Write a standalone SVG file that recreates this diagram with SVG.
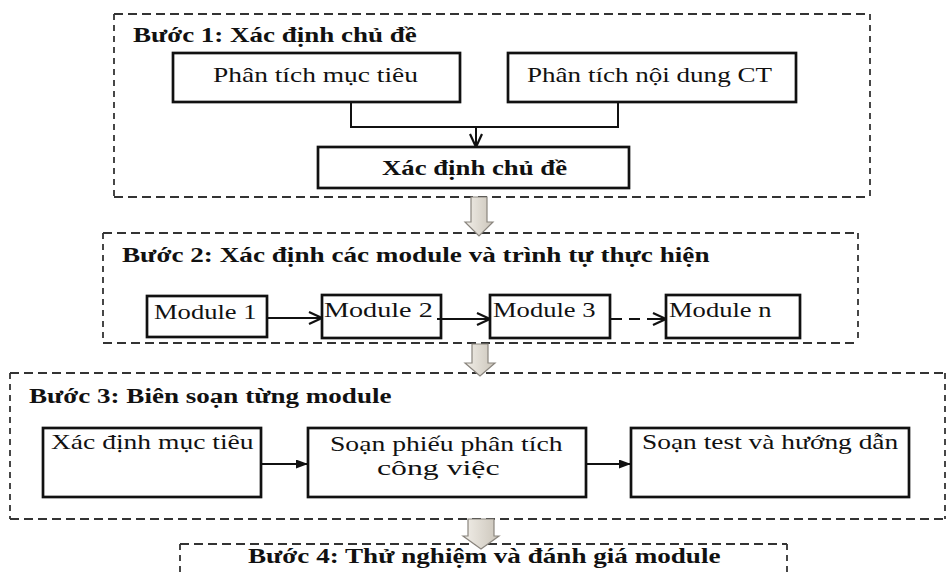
<svg xmlns="http://www.w3.org/2000/svg" width="948" height="576" viewBox="0 0 948 576">
<defs>
<marker id="chev" viewBox="0 0 15 14" refX="14" refY="7" markerWidth="15" markerHeight="14" markerUnits="userSpaceOnUse" orient="auto"><path d="M1,1 L14,7 L1,13" fill="none" stroke="#111" stroke-width="2.2"/></marker>
<marker id="tri" viewBox="0 0 12 9" refX="12" refY="4.5" markerWidth="12" markerHeight="9" markerUnits="userSpaceOnUse" orient="auto"><path d="M0,0 L12,4.5 L0,9 Z" fill="#111"/></marker>
<linearGradient id="blkg" x1="0" x2="1" y1="0" y2="0"><stop offset="0" stop-color="#f1eee8"/><stop offset="1" stop-color="#cbc5ba"/></linearGradient>
</defs>
<style>
.dh{stroke:#333;stroke-width:1.8;stroke-dasharray:9 5;fill:none}
.dv{stroke:#333;stroke-width:1.8;stroke-dasharray:6 5;fill:none}
.box{fill:#fff;stroke:#111;stroke-width:2.7}
.t{font-family:"Liberation Serif","Times New Roman",serif;font-size:22px;fill:#111}
.b{font-weight:bold;font-size:21px}
.c{stroke:#111;stroke-width:2;fill:none}
.blk{fill:url(#blkg);stroke:#8a857e;stroke-width:1.2}
</style>
<rect width="948" height="576" fill="#fff"/>

<g id="step1">
<line class="dh" x1="114" y1="14" x2="870" y2="14"/>
<line class="dh" x1="114" y1="197" x2="870" y2="197"/>
<line class="dv" x1="114" y1="14" x2="114" y2="197"/>
<line class="dv" x1="870" y1="14" x2="870" y2="197"/>
<text class="t b" transform="translate(133,42) scale(1.25,1)" textLength="227" lengthAdjust="spacingAndGlyphs">Bước 1: Xác định chủ đề</text>
</g>
<g id="n-muctieu"><rect class="box" x="173" y="53" width="287" height="49"/><text class="t" transform="translate(213,82) scale(1.25,1)" textLength="164" lengthAdjust="spacingAndGlyphs">Phân tích mục tiêu</text></g>
<g id="n-noidung"><rect class="box" x="508" y="53" width="288" height="49"/><text class="t" transform="translate(527,82) scale(1.25,1)" textLength="196" lengthAdjust="spacingAndGlyphs">Phân tích nội dung CT</text></g>
<g id="n-chude"><rect class="box" x="318" y="147" width="311" height="41"/><text class="t b" transform="translate(382,175) scale(1.25,1)" textLength="148" lengthAdjust="spacingAndGlyphs">Xác định chủ đề</text></g>

<g id="step2">
<line class="dh" x1="103" y1="233" x2="858" y2="233"/>
<line class="dh" x1="103" y1="343" x2="858" y2="343"/>
<line class="dv" x1="103" y1="233" x2="103" y2="343"/>
<line class="dv" x1="858" y1="233" x2="858" y2="343"/>
<text class="t b" transform="translate(122,262) scale(1.25,1)" textLength="470" lengthAdjust="spacingAndGlyphs">Bước 2: Xác định các module và trình tự thực hiện</text>
</g>
<g id="n-m1"><rect class="box" x="147" y="296" width="120" height="41"/><text class="t" transform="translate(154,319) scale(1.25,1)" textLength="82" lengthAdjust="spacingAndGlyphs">Module 1</text></g>
<g id="n-m2"><rect class="box" x="322" y="295" width="119" height="43"/><text class="t" transform="translate(324,317) scale(1.25,1)" textLength="87" lengthAdjust="spacingAndGlyphs">Module 2</text></g>
<g id="n-m3"><rect class="box" x="490" y="295" width="120" height="43"/><text class="t" transform="translate(493,317) scale(1.25,1)" textLength="82" lengthAdjust="spacingAndGlyphs">Module 3</text></g>
<g id="n-mn"><rect class="box" x="666" y="295" width="134" height="43"/><text class="t" transform="translate(669,317) scale(1.25,1)" textLength="82" lengthAdjust="spacingAndGlyphs">Module n</text></g>

<g id="step3">
<line class="dh" x1="10" y1="373" x2="945" y2="373"/>
<line class="dh" x1="10" y1="519" x2="945" y2="519"/>
<line class="dv" x1="10" y1="373" x2="10" y2="519"/>
<line class="dv" x1="945" y1="373" x2="945" y2="519"/>
<text class="t b" transform="translate(29,403) scale(1.25,1)" textLength="290" lengthAdjust="spacingAndGlyphs">Bước 3: Biên soạn từng module</text>
</g>
<g id="n-xdmt"><rect class="box" x="43" y="428" width="218" height="69"/><text class="t" transform="translate(51,449) scale(1.25,1)" textLength="162" lengthAdjust="spacingAndGlyphs">Xác định mục tiêu</text></g>
<g id="n-phieu"><rect class="box" x="308" y="428" width="278" height="69"/><text class="t" transform="translate(330,451) scale(1.25,1)" textLength="186" lengthAdjust="spacingAndGlyphs">Soạn phiếu phân tích</text><text class="t" transform="translate(377,475) scale(1.25,1)" textLength="98" lengthAdjust="spacingAndGlyphs">công việc</text></g>
<g id="n-test"><rect class="box" x="631" y="428" width="278" height="69"/><text class="t" transform="translate(642,449) scale(1.25,1)" textLength="205" lengthAdjust="spacingAndGlyphs">Soạn test và hướng dẫn</text></g>

<g id="step4">
<line class="dh" x1="180" y1="544" x2="787" y2="544"/>
<line class="dv" x1="180" y1="544" x2="180" y2="580"/>
<line class="dv" x1="787" y1="544" x2="787" y2="580"/>
<text class="t b" transform="translate(248,563) scale(1.25,1)" textLength="378" lengthAdjust="spacingAndGlyphs">Bước 4: Thử nghiệm và đánh giá module</text>
</g>

<g id="connectors">
<path class="c" d="M351,102 V127 H618 V102"/>
<line class="c" x1="476" y1="127" x2="476" y2="147" marker-end="url(#chev)"/>
<line class="c" x1="267" y1="318" x2="322" y2="318" marker-end="url(#chev)"/>
<line class="c" x1="437" y1="319" x2="490" y2="319" marker-end="url(#chev)"/>
<line class="c" x1="611" y1="319" x2="652" y2="319" stroke-dasharray="11 7"/>
<line class="c" x1="652" y1="319" x2="666" y2="319" marker-end="url(#chev)"/>
<line class="c" x1="261" y1="464" x2="308" y2="464" marker-end="url(#tri)"/>
<line class="c" x1="586" y1="464" x2="631" y2="464" marker-end="url(#tri)"/>
<path class="blk" d="M471,197 H487 V222 H493 L479,236 L465,222 H471 Z"/>
<path class="blk" d="M472,344 H488 V363 H495 L480,376 L465,363 H472 Z"/>
<path class="blk" d="M468,519 H494 V536 H499 L481,549 L463,536 H468 Z"/>
</g>
</svg>
